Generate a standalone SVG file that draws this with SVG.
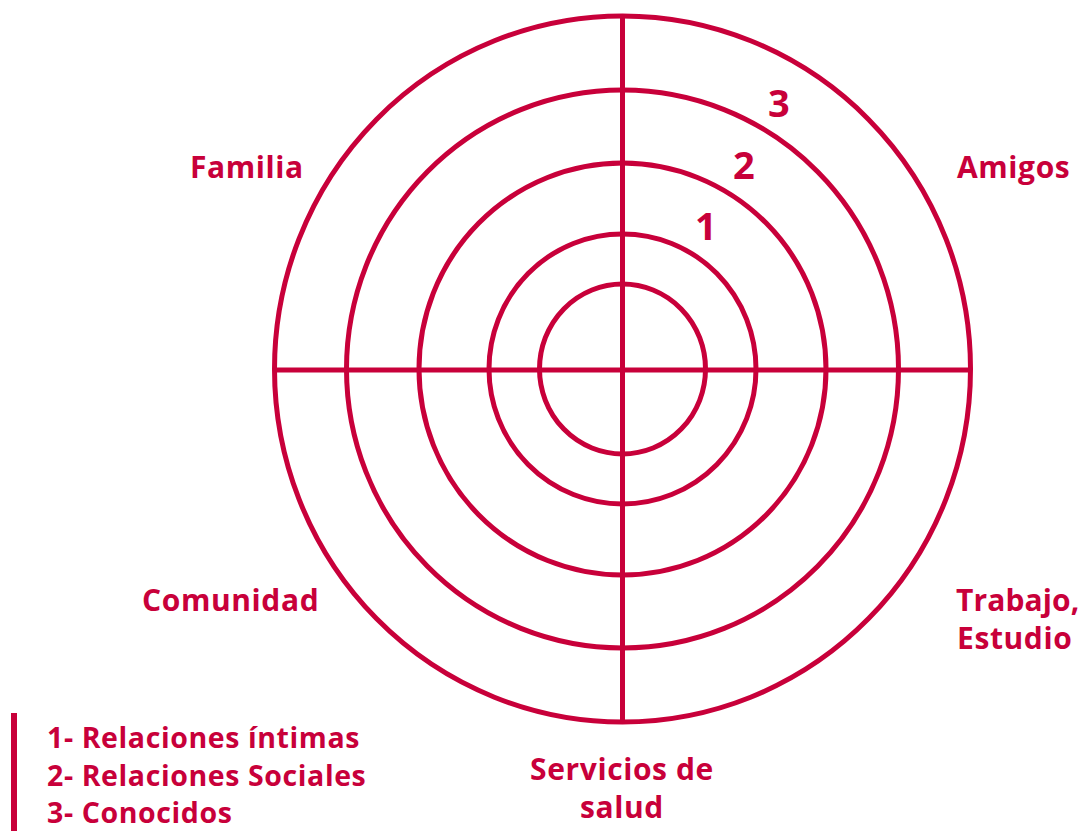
<svg xmlns="http://www.w3.org/2000/svg" width="1081" height="831" viewBox="0 0 1081 831">
<style>
.ring{fill:none;stroke:#C8003A;stroke-width:5}
.axis{stroke:#C8003A;stroke-width:5}
.lbl{font-family:"Open Sans","Liberation Sans",sans-serif;font-weight:700;font-size:30px;letter-spacing:0.6px;fill:#C8003A}
.tight{letter-spacing:0.1px}
.num{font-family:"Open Sans","Liberation Sans",sans-serif;font-weight:700;font-size:38px;fill:#C8003A}
.leg{font-family:"Open Sans","Liberation Sans",sans-serif;font-weight:700;font-size:28.5px;letter-spacing:0.6px;fill:#C8003A}
</style>
<rect width="1081" height="831" fill="#fff"/>
<g id="rings">
<ellipse class="ring" cx="622.5" cy="369" rx="348" ry="353"/>
<ellipse class="ring" cx="622.5" cy="369" rx="276" ry="279"/>
<ellipse class="ring" cx="622.5" cy="369" rx="203.5" ry="206"/>
<ellipse class="ring" cx="622.5" cy="369" rx="133.5" ry="135"/>
<ellipse class="ring" cx="622.5" cy="369" rx="83" ry="85"/>
</g>
<g id="connectors">
<line class="axis" x1="622.5" y1="16" x2="622.5" y2="722"/>
<line class="axis" x1="274.5" y1="370" x2="970.5" y2="370"/>
</g>
<g id="numbers">
<text class="num" x="768" y="117">3</text>
<text class="num" x="733" y="179">2</text>
<text class="num" x="695" y="240">1</text>
</g>
<g id="familia"><text class="lbl" x="190" y="178">Familia</text></g>
<g id="amigos"><text class="lbl" x="957" y="178">Amigos</text></g>
<g id="comunidad"><text class="lbl" x="142" y="611">Comunidad</text></g>
<g id="trabajo"><text class="lbl tight" x="956" y="611">Trabajo,</text><text class="lbl" x="957" y="649">Estudio</text></g>
<g id="salud"><text class="lbl" x="622" y="780" text-anchor="middle">Servicios de</text><text class="lbl" x="622" y="818" text-anchor="middle">salud</text></g>
<g id="legend">
<rect x="11" y="713" width="6" height="118" fill="#C8003A"/>
<text class="leg" x="47" y="748">1- Relaciones íntimas</text>
<text class="leg" x="47" y="786">2- Relaciones Sociales</text>
<text class="leg" x="47" y="823">3- Conocidos</text>
</g>
</svg>
